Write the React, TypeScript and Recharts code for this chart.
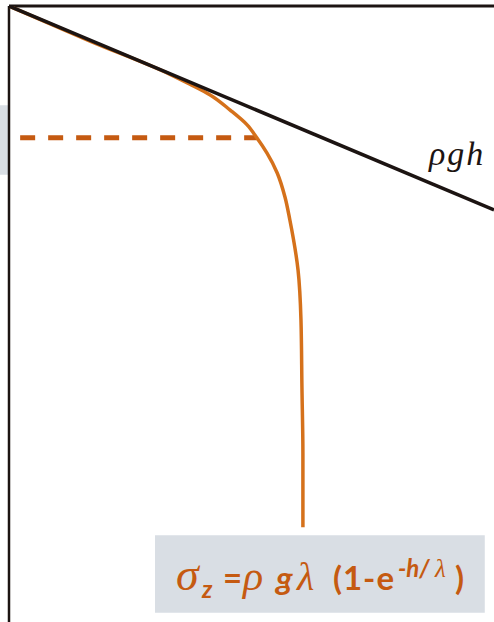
import React from 'react';
import {
  LineChart, Line, XAxis, YAxis, ReferenceArea, ReferenceDot, ReferenceLine,
} from 'recharts';

// depth (downwards) and vertical stress, arbitrary units 0-100
const curveDepth = [0, 5.7, 11.1, 12.7, 14.4, 16.9, 19.3, 21.4, 23.9, 27.1, 31.0, 34.7, 42.9, 51.0, 61.9, 72.6, 84.6];
const curveStress = [0, 16.7, 33.2, 37.3, 41.4, 45.6, 49.1, 51.1, 53.2, 55.3, 56.9, 57.9, 59.6, 60.2, 60.4, 60.6, 60.6];

const hydroDepth = [0, 33.1];
const hydroStress = [0, 100];

const dashDepth = [21.4, 21.4];
const dashStress = [2.3, 51.1];

const curveData = curveDepth.map((d, i) => ({ d, s: curveStress[i] }));
const hydroData = hydroDepth.map((d, i) => ({ d, s: hydroStress[i] }));
const dashData = dashDepth.map((d, i) => ({ d, s: dashStress[i] }));

const ORANGE = '#d5711b';
const DARK_ORANGE = '#c55a11';
const INK = '#1c1412';

const serif = '"Times New Roman", "Liberation Serif", "DejaVu Serif", serif';
const sans = 'Lato';

// formula glyph runs, offsets are relative to the box's top-left corner
const FormulaLabel = ({ viewBox }: any) => {
  if (!viewBox) return null;
  const bx = viewBox.x;
  const by = viewBox.y + 55;
  const greek = { fontFamily: serif, fontStyle: 'italic', fontWeight: 400 } as const;
  const bold = { fontFamily: sans, fontWeight: 700 } as const;
  return (
    <g fill={DARK_ORANGE}>
      <text x={bx + 21} y={by} fontSize={46} style={greek}>σ</text>
      <text x={bx + 47} y={by + 8} fontSize={24} fontStyle="italic" style={bold}>z</text>
      <text x={bx + 68} y={by} fontSize={33} style={bold}>=</text>
      <text x={bx + 88} y={by} fontSize={42} style={greek}>ρ</text>
      <text x={bx + 121} y={by} fontSize={33} fontStyle="italic" style={bold}>g</text>
      <text x={bx + 142} y={by} fontSize={40} style={greek}>λ</text>
      <text x={bx + 178} y={by} fontSize={33} style={bold}>(</text>
      <text x={bx + 188} y={by} fontSize={33} style={bold} letterSpacing={1}>1-e</text>
      <text x={bx + 243} y={by - 13} fontSize={24} fontStyle="italic" style={bold}>-h/</text>
      <text x={bx + 280} y={by - 13} fontSize={25} style={greek}>λ</text>
      <text x={bx + 300} y={by} fontSize={33} style={bold}>)</text>
    </g>
  );
};

const RhoGhLabel = ({ viewBox }: any) => {
  if (!viewBox) return null;
  return (
    <text
      x={viewBox.x}
      y={viewBox.y}
      fill={INK}
      fontSize={34}
      style={{ fontFamily: serif, fontStyle: 'italic' }}
      letterSpacing={2}
    >
      ρgh
    </text>
  );
};

export default function App() {
  return (
    <div style={{ position: 'absolute', left: 0, top: 0, background: '#fff' }}>
      <LineChart
        width={494}
        height={622}
        layout="vertical"
        margin={{ top: 6, right: 0, bottom: 0, left: 9 }}
      >
        <XAxis type="number" dataKey="s" domain={[0, 100]} allowDataOverflow hide />
        <YAxis type="number" dataKey="d" domain={[0, 100]} allowDataOverflow hide />
        <ReferenceArea
          x1={-1.9}
          x2={0}
          y1={16.1}
          y2={27.4}
          ifOverflow="visible"
          fill="#d9dee4"
          fillOpacity={1}
          stroke="none"
        />
        <ReferenceArea
          x1={30.1}
          x2={98.1}
          y1={85.9}
          y2={98.5}
          ifOverflow="visible"
          fill="#d9dee4"
          fillOpacity={1}
          stroke="none"
          label={<FormulaLabel />}
        />
        {/* frame: top edge and left edge */}
        <ReferenceLine y={0} stroke={INK} strokeWidth={3} ifOverflow="visible" />
        <ReferenceLine x={0} stroke={INK} strokeWidth={2.5} ifOverflow="visible" />
        <Line
          data={dashData}
          dataKey="s"
          type="linear"
          stroke={DARK_ORANGE}
          strokeWidth={5}
          strokeDasharray="15 13"
          dot={false}
          isAnimationActive={false}
        />
        <Line
          data={curveData}
          dataKey="s"
          type="monotone"
          stroke={ORANGE}
          strokeWidth={3.5}
          dot={false}
          isAnimationActive={false}
        />
        <Line
          data={hydroData}
          dataKey="s"
          type="linear"
          stroke={INK}
          strokeWidth={3.5}
          dot={false}
          isAnimationActive={false}
        />
        <ReferenceDot
          x={86.6}
          y={25.8}
          r={0}
          ifOverflow="visible"
          label={<RhoGhLabel />}
        />
      </LineChart>
    </div>
  );
}
